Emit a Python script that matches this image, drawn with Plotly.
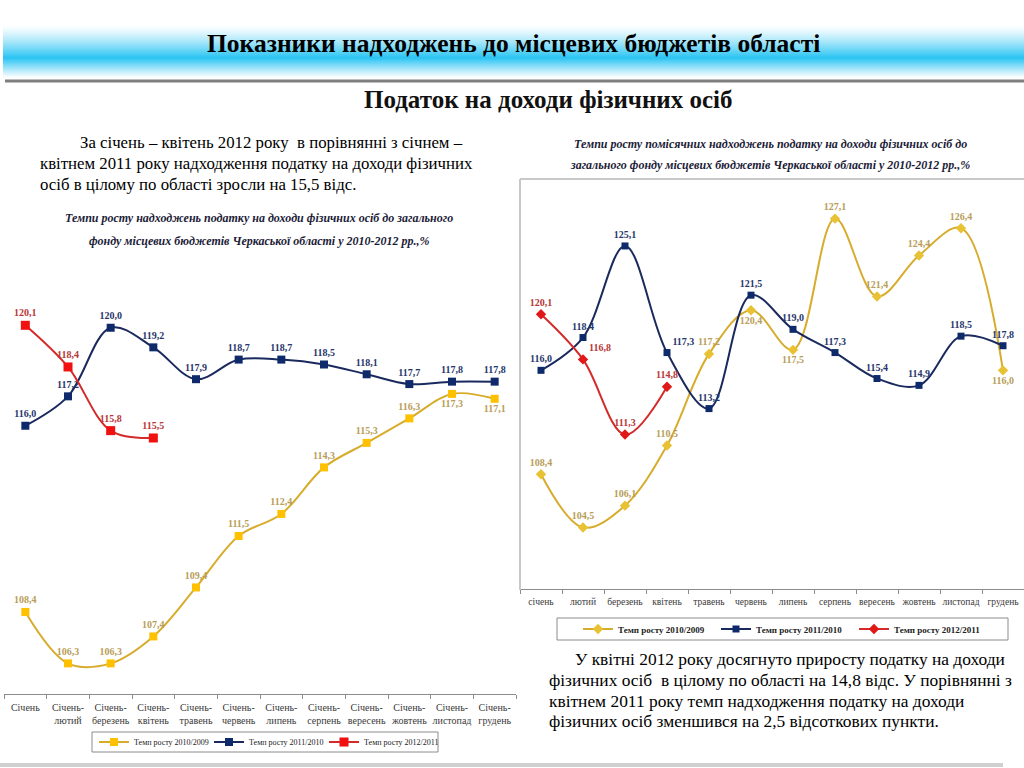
import plotly.graph_objects as go

# ---------------- data ----------------
months_cum = ["Січень", "Січень-<br>лютий", "Січень-<br>березень", "Січень-<br>квітень",
              "Січень-<br>травень", "Січень-<br>червень", "Січень-<br>липень", "Січень-<br>серпень",
              "Січень-<br>вересень", "Січень-<br>жовтень", "Січень-<br>листопад", "Січень-<br>грудень"]
months = ["січень", "лютий", "березень", "квітень", "травень", "червень", "липень",
          "серпень", "вересень", "жовтень", "листопад", "грудень"]

cum_2010 = [108.4, 106.3, 106.3, 107.4, 109.4, 111.5, 112.4, 114.3, 115.3, 116.3, 117.3, 117.1]
cum_2011 = [116.0, 117.2, 120.0, 119.2, 117.9, 118.7, 118.7, 118.5, 118.1, 117.7, 117.8, 117.8]
cum_2012 = [120.1, 118.4, 115.8, 115.5]

mon_2010 = [108.4, 104.5, 106.1, 110.5, 117.2, 120.4, 117.5, 127.1, 121.4, 124.4, 126.4, 116.0]
mon_2011 = [116.0, 118.4, 125.1, 117.3, 113.2, 121.5, 119.0, 117.3, 115.4, 114.9, 118.5, 117.8]
mon_2012 = [120.1, 116.8, 111.3, 114.8]

series_names = ["Темп росту 2010/2009", "Темп росту 2011/2010", "Темп росту 2012/2011"]

W, H = 1024, 768
def px(x): return x / W
def py(y): return 1 - y / H

SERIF = "Liberation Serif"
YEL_L, YEL_M, YEL_T = "#D7AC2C", "#FFC000", "#B89E58"
NAV_L, NAV_M, NAV_T = "#1A2A5E", "#0E2A6A", "#27366A"
RED_L, RED_M, RED_T = "#D42A2A", "#F01010", "#B83636"

fig = go.Figure()

def add(x, y, name, xa, ya, leg, lcol, mcol, tcol, symbol, msize, pos):
    fig.add_trace(go.Scatter(
        x=x[:len(y)], y=y, name=name, xaxis=xa, yaxis=ya, legend=leg,
        mode="lines+markers+text",
        line=dict(color=lcol, width=2, shape="spline", smoothing=1.0),
        marker=dict(color=mcol, symbol=symbol, size=msize),
        texttemplate="%{y:.1f}", textposition=pos,
        textfont=dict(family=SERIF, size=10, color=tcol, weight="bold"),
        cliponaxis=False, hoverinfo="skip"))

# left chart (cumulative)
add(months_cum, cum_2010, series_names[0], "x", "y", "legend", YEL_L, YEL_M, YEL_T, "square", 8,
    ["top center"] * 10 + ["bottom center"] * 2)
add(months_cum, cum_2011, series_names[1], "x", "y", "legend", NAV_L, NAV_M, NAV_T, "square", 8,
    ["top center"] * 12)
add(months_cum, cum_2012, series_names[2], "x", "y", "legend", RED_L, RED_M, RED_T, "square", 9,
    ["top center"] * 4)

# right chart (monthly)
add(months, mon_2010, series_names[0], "x2", "y2", "legend2", YEL_L, "#E9C233", YEL_T, "diamond", 8,
    ["top center"] * 5 + ["bottom center"] * 2 + ["top center"] * 4 + ["bottom center"])
add(months, mon_2011, series_names[1], "x2", "y2", "legend2", NAV_L, NAV_M, NAV_T, "square", 7,
    ["top center"] * 3 + ["top right"] + ["top center"] * 8)
add(months, mon_2012, series_names[2], "x2", "y2", "legend2", RED_L, "#E01818", RED_T, "diamond", 8,
    ["top center", "top right", "top center", "top center"])

axis_common = dict(type="category", showline=True, linecolor="#8C8C8C", linewidth=1,
                   ticks="outside", tickson="boundaries", ticklen=4, tickcolor="#8C8C8C",
                   tickangle=0, ticklabelstandoff=4, showgrid=False, zeroline=False,
                   fixedrange=True)

fig.update_layout(
    width=W, height=H, margin=dict(l=0, r=0, t=0, b=0, autoexpand=False),
    paper_bgcolor="white", plot_bgcolor="rgba(0,0,0,0)",
    separators=", ",
    showlegend=True,
    xaxis=dict(domain=[px(4), px(516)], anchor="y", range=[-0.5, 11.5],
               tickfont=dict(family=SERIF, size=10, color="#3A3A3A"), **axis_common),
    yaxis=dict(domain=[py(694), py(291)], anchor="x", range=[105.05, 121.5], visible=False,
               fixedrange=True),
    xaxis2=dict(domain=[px(520), 1.0], anchor="y2", range=[-0.5, 11.5],
                tickfont=dict(family=SERIF, size=9.5, color="#3A3A3A"), **axis_common),
    yaxis2=dict(domain=[py(589), py(179)], anchor="x2", range=[100, 130], visible=False,
                fixedrange=True),
    legend=dict(x=px(94), y=py(742), xanchor="left", yanchor="middle", orientation="h",
                bgcolor="rgba(0,0,0,0)", borderwidth=0, itemwidth=30,
                entrywidth=70, entrywidthmode="pixels",
                font=dict(family=SERIF, size=8, color="#222")),
    legend2=dict(x=px(578), y=py(629), xanchor="left", yanchor="middle", orientation="h",
                 bgcolor="rgba(0,0,0,0)", borderwidth=0, itemwidth=30,
                 entrywidth=93, entrywidthmode="pixels",
                 font=dict(family=SERIF, size=9, color="#222", weight="bold")),
)

shapes = []
# header gradient band
top, bot = 25, 78
for i in range(bot - top):
    t = (i + 0.5) / (bot - top)
    if t < 0.62:
        f = (t / 0.62) ** 1.3
    else:
        f = ((1 - t) / 0.38) ** 1.1
    f = max(0.0, min(1.0, f))
    r = round(255 + (41 - 255) * f)
    g = round(255 + (196 - 255) * f)
    b = round(255 + (243 - 255) * f)
    shapes.append(dict(type="rect", xref="paper", yref="paper", x0=px(3), x1=1,
                       y0=py(top + i + 1), y1=py(top + i), line=dict(width=0),
                       fillcolor=f"rgb({r},{g},{b})", layer="below"))
# grey rule under header
shapes.append(dict(type="line", xref="paper", yref="paper", x0=px(5), x1=1, y0=py(81), y1=py(81),
                   line=dict(color="#7F7F7F", width=3)))
# bottom grey bar
shapes.append(dict(type="line", xref="paper", yref="paper", x0=0, x1=px(1003), y0=py(765), y1=py(765),
                   line=dict(color="#D0D0D0", width=4)))
# right chart frame
shapes.append(dict(type="line", xref="paper", yref="paper", x0=px(520), x1=1, y0=py(179), y1=py(179),
                   line=dict(color="#C8C8C8", width=2)))
shapes.append(dict(type="line", xref="paper", yref="paper", x0=px(520), x1=px(520), y0=py(179), y1=py(590),
                   line=dict(color="#C8C8C8", width=2)))
# legend boxes
shapes.append(dict(type="rect", xref="paper", yref="paper", x0=px(92), x1=px(438), y0=py(752), y1=py(732),
                   line=dict(color="#8C8C8C", width=1), fillcolor="rgba(0,0,0,0)"))
shapes.append(dict(type="rect", xref="paper", yref="paper", x0=px(557), x1=px(1008), y0=py(640), y1=py(618),
                   line=dict(color="#8C8C8C", width=1), fillcolor="rgba(0,0,0,0)"))
fig.update_layout(shapes=shapes)

def note(text, x, y, size, xanchor="left", color="black", weight="normal", style="normal"):
    fig.add_annotation(text=text, x=px(x), y=py(y), xref="paper", yref="paper",
                       xanchor=xanchor, yanchor="middle", showarrow=False,
                       font=dict(family=SERIF, size=size, color=color, weight=weight, style=style))

note("Показники надходжень до місцевих бюджетів області", 513, 44, 25.5, "center", weight="bold")
note("Податок на доходи фізичних осіб", 548, 99, 25, "center", color="#111", weight="bold")

note("За січень – квітень 2012 року  в порівнянні з січнем –", 78, 142, 16.8)
note("квітнем 2011 року надходження податку на доходи фізичних", 38, 163, 16.8)
note("осіб в цілому по області зросли на 15,5 відс.", 38, 185, 16.8)

note("Темпи росту надходжень податку на доходи фізичних осіб до загального", 259, 218, 12,
     "center", color="#1C1C38", weight="bold", style="italic")
note("фонду місцевих бюджетів Черкаської області у 2010-2012 рр.,%", 259, 241, 12,
     "center", color="#1C1C38", weight="bold", style="italic")

note("Темпи росту помісячних надходжень податку на доходи фізичних осіб до", 770, 144, 12,
     "center", color="#1C1C38", weight="bold", style="italic")
note("загального фонду місцевих бюджетів Черкаської області у 2010-2012 рр.,%", 770, 165, 12,
     "center", color="#1C1C38", weight="bold", style="italic")

note("У квітні 2012 року досягнуто приросту податку на доходи", 573, 659, 17.4)
note("фізичних осіб  в цілому по області на 14,8 відс. У порівнянні з", 547, 680, 17.4)
note("квітнем 2011 року темп надходження податку на доходи", 547, 701, 17.4)
note("фізичних осіб зменшився на 2,5 відсоткових пункти.", 547, 721, 17.4)

fig.write_html("out.html", config={"displayModeBar": False, "staticPlot": True},
               post_script="document.body.style.margin='0';document.body.style.overflow='hidden';")
